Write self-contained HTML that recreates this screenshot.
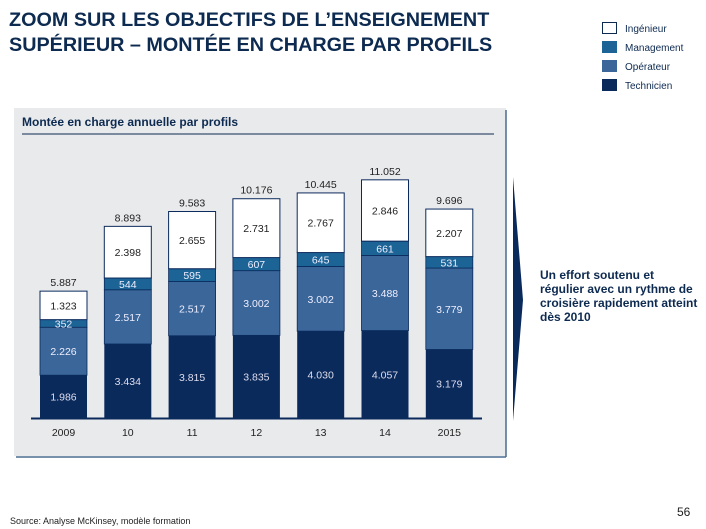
<!DOCTYPE html>
<html><head><meta charset="utf-8"><style>
body{margin:0;width:706px;height:529px;background:#fff;font-family:"Liberation Sans",sans-serif;overflow:hidden;position:relative}
.t{position:absolute;white-space:nowrap}
</style></head><body>
<div class="t" style="left:9px;top:8px;font-size:19.8px;font-weight:bold;color:#0d2a50;line-height:25px">ZOOM SUR LES OBJECTIFS DE L’ENSEIGNEMENT<br>SUPÉRIEUR – MONTÉE EN CHARGE PAR PROFILS</div>
<svg width="706" height="529" style="position:absolute;left:0;top:0" id="svg">
<g font-size="10" fill="#0d2a50">
<rect x="602.5" y="22.5" width="14" height="11" fill="#fff" stroke="#0d2a50"/>
<text x="625" y="32">Ingénieur</text>
<rect x="602" y="41" width="15" height="12" fill="#1d6496"/>
<text x="625" y="51">Management</text>
<rect x="602" y="60" width="15" height="12" fill="#3a6699"/>
<text x="625" y="70">Opérateur</text>
<rect x="602" y="79" width="15" height="12" fill="#0b2a5c"/>
<text x="625" y="89">Technicien</text>
</g>
<rect x="14" y="108" width="492" height="348" fill="#e9eaec"/>
<line x1="506" y1="110" x2="506" y2="457" stroke="#4a6b8f" stroke-width="1.5"/>
<line x1="16" y1="457" x2="506" y2="457" stroke="#4a6b8f" stroke-width="1.5"/>
<text x="22" y="126" font-size="12" font-weight="bold" fill="#0d2a50">Montée en charge annuelle par profils</text>
<line x1="22" y1="134" x2="494" y2="134" stroke="#0d2a50" stroke-width="1"/>
<g id="bars"></g>
<line x1="31" y1="418.5" x2="482" y2="418.5" stroke="#0b2a5c" stroke-width="2"/>
<polygon points="513,177 523,300 513,421" fill="#0b2a5c"/>
<text x="10" y="524" font-size="9" fill="#222">Source:   Analyse McKinsey, modèle formation</text>
<text x="677" y="516" font-size="12" fill="#222">56</text>
</svg>
<div class="t" style="left:540px;top:268px;font-size:12px;font-weight:bold;color:#0d2a50;line-height:14px">Un effort soutenu et<br>régulier avec un rythme de<br>croisière rapidement atteint<br>dès 2010</div>
<script>
const years=["2009","10","11","12","13","14","2015"];
const technicien=[1986,3434,3815,3835,4030,4057,3179];
const operateur=[2226,2517,2517,3002,3002,3488,3779];
const management=[352,544,595,607,645,661,531];
const ingenieur=[1323,2398,2655,2731,2767,2846,2207];
const totals=["5.887","8.893","9.583","10.176","10.445","11.052","9.696"];
const ns="http://www.w3.org/2000/svg";
const g=document.getElementById('bars');
const base=418, k=0.02155, x0=40, step=64.3, bw=47;
const fmt=v=>v>=1000?Math.floor(v/1000)+"."+String(v%1000).padStart(3,"0"):String(v);
function el(t,a){const e=document.createElementNS(ns,t);for(const n in a)e.setAttribute(n,a[n]);g.appendChild(e);return e;}
const series=[[technicien,"#0b2a5c","#dde","technicien"],[operateur,"#3a6699","#eef","operateur"],[management,"#1d6496","#eef","management"],[ingenieur,"#fff","#222","ingenieur"]];
years.forEach((yr,i)=>{
  const x=x0+i*step; let y=base;
  series.forEach(([arr,col,tc,nm])=>{
    const h=arr[i]*k; y-=h;
    const r=el('rect',{x:x,y:y,width:bw,height:h,fill:col,stroke:nm==="technicien"?"none":"#0b2a5c","stroke-width":nm==="ingenieur"?1:0.8});
    
    
    const t=el('text',{x:x+bw/2,y:y+h/2+4,"text-anchor":"middle","font-size":10.5,fill:tc});
    t.textContent=fmt(arr[i]);
    
    
  });
  const tt=el('text',{x:x+bw/2,y:y-5,"text-anchor":"middle","font-size":10.5,fill:"#222"});
  tt.textContent=totals[i];
  
  
  const xl=el('text',{x:x+bw/2,y:436,"text-anchor":"middle","font-size":10.5,fill:"#222"});
  xl.textContent=yr;
  
  
});
</script>
</body></html>
